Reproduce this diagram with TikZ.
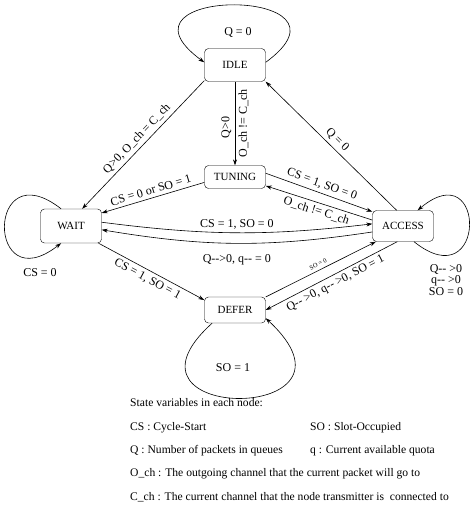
\documentclass[tikz,border=0pt]{standalone}
\usepackage{fontspec}
\setmainfont{Liberation Serif}
\usetikzlibrary{arrows.meta, positioning}

\begin{document}
\begin{tikzpicture}[
    x=1pt, y=-1pt,
    font=\fontsize{12}{14}\selectfont,
    state/.style={rectangle, draw, rounded corners=4pt, minimum width=61pt, align=center, font=\fontsize{11}{13}\selectfont},
    arrow/.style={->, >={Stealth[length=6pt, width=4pt]}, line width=0.6pt},
    legend/.style={anchor=west, inner sep=0pt, text height=8pt, text depth=2.5pt, font=\fontsize{11.6}{14}\selectfont}
]
    \useasboundingbox (0,0) rectangle (470,514);

    \node[state, minimum height=33pt] (idle) at (235,65) {IDLE};
    \node[state, minimum height=23pt] (tuning) at (235,177) {TUNING};
    \node[state, minimum height=34pt] (wait) at (71,226) {WAIT};
    \node[state, minimum height=31pt] (access) at (403,226) {ACCESS};
    \node[state, minimum height=26pt] (defer) at (235,310) {DEFER};

    % transitions between states
    \draw[arrow, <-] (tuning.north) -- node[sloped, above, pos=0.45]{Q>0} node[sloped, below]{O\_ch != C\_ch} (idle.south);
    \draw[arrow, <-] (wait.57) -- node[sloped, above]{Q>0, O\_ch = C\_ch} (idle.-153);
    \draw[arrow, <-] (idle.south east) -- node[sloped, above]{Q = 0} (access.112);
    \draw[arrow, <-] (wait.23) -- node[sloped, above]{CS = 0 or SO = 1} (tuning.190);
    \draw[arrow] (tuning.7) -- node[sloped, above]{CS = 1, SO = 0} (access.155);
    \draw[arrow, <-] (tuning.-16) -- node[sloped, below]{O\_ch != C\_ch} (access.169);
    \draw[arrow] (wait.7) to[bend right=7] node[above]{CS = 1, SO = 0} (access.176);
    \draw[arrow] (access.191) to[bend left=9] node[below=8pt]{Q-{}->0, q-{}- = 0} (wait.-7);
    \draw[arrow] (wait.-32) -- node[sloped, below]{CS = 1, SO = 1} (defer.162);
    \draw[arrow] (defer.23) -- node[sloped, above, font=\fontsize{6.5}{7}\selectfont]{SO = 0} (access.-150);
    \draw[arrow, <-] (defer.0) -- node[sloped, below]{Q-{}- >0, q-{}- >0, SO = 1} (access.-110);

    % self loops
    \draw[arrow] (idle.5) .. controls (370,-14) and (100,-14) .. (idle.175);
    \node (idleq) at (238,32) {Q = 0};
    \draw[arrow] (wait.120) .. controls (-14,150) and (-14,302) .. (wait.-120);
    \node (waitcs) at (40,273) {CS = 0};
    \draw[arrow] (access.-55) .. controls (487,300) and (487,152) .. (access.47);
    \node[align=center, font=\fontsize{12}{11.5}\selectfont] (accessvars) at (446,280) {Q-{}- >0\\q-{}- >0\\SO = 0};
    \draw[arrow] (defer.-150) .. controls (100,424) and (380,424) .. (defer.-15);
    \node (deferso) at (233,368) {SO = 1};

    % legend
    \coordinate (col2) at (310,0);
    \node[legend] (title) at (130,404) {State variables in each node:};
    \node[legend, below=12.5pt of title.south west, anchor=north west] (cs) {CS : Cycle-Start};
    \node[legend] (so) at (cs.west -| col2) {SO : Slot-Occupied};
    \node[legend, below=12.5pt of cs.south west, anchor=north west] (qq) {Q : Number of packets in queues};
    \node[legend] (quota) at (qq.west -| col2) {q : Current available quota};
    \node[legend, below=12.5pt of qq.south west, anchor=north west] (och) {O\_ch : The outgoing channel that the current packet will go to};
    \node[legend, below=12.5pt of och.south west, anchor=north west] (cch) {C\_ch : The current channel that the node transmitter is\ \ connected to};
\end{tikzpicture}
\end{document}
